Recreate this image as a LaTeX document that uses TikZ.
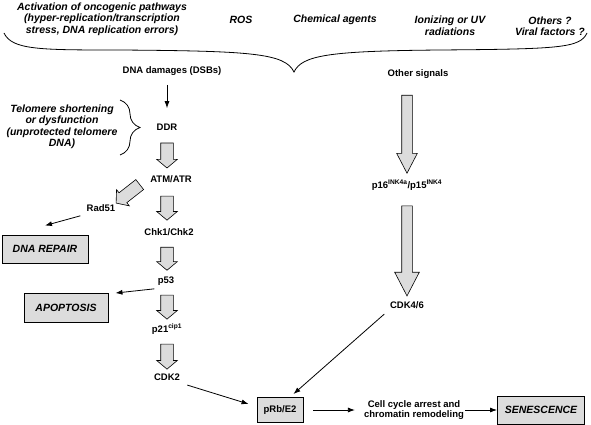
\documentclass[tikz,border=0pt]{standalone}
\usepackage{fontspec}
\setmainfont{Liberation Sans}
\usetikzlibrary{shapes.arrows,arrows.meta,decorations.pathreplacing}
\definecolor{boxgray}{RGB}{220,220,220}

\tikzset{
  lbl/.style={font=\bfseries\fontsize{9.5}{10.5}\selectfont},
  cause/.style={font=\bfseries\itshape\fontsize{10.5}{11.5}\selectfont, align=center},
  outcome/.style={draw, fill=boxgray, line width=0.9pt, font=\bfseries\itshape\fontsize{10.5}{12}\selectfont},
  conn/.style={-{Latex[length=7pt,width=5pt]}, line width=0.8pt},
  hollow/.style={single arrow, draw, fill=boxgray, line width=0.6pt, inner xsep=0pt, inner ysep=6pt,
    single arrow head extend=4pt, single arrow tip angle=100, minimum height=#1, sloped, allow upside down},
  hollowlong/.style={hollow=#1, inner ysep=5pt, single arrow head extend=5pt, single arrow tip angle=55}
}

\begin{document}
\begin{tikzpicture}[x=1pt, y=-1pt]
\useasboundingbox (0,0) rectangle (591,425);

% Causes
\node[cause] (onco) at (102,19) {Activation of oncogenic pathways\\(hyper-replication/transcription\\stress, DNA replication errors)};
\node[cause] (ros) at (241,20) {ROS};
\node[cause] (chem) at (335,20) {Chemical agents};
\node[cause] (irr) at (450,26) {Ionizing or UV\\radiations};
\node[cause] (viral) at (550,26) {Others ?\\Viral factors ?};

% Top brace
\draw[line width=0.8pt] (4,33) .. controls (12,50) and (40,50) .. (120,50)
  .. controls (250,51) and (285,53) .. (294,72)
  .. controls (302,55) and (330,51) .. (440,50)
  .. controls (560,49) and (580,48) .. (587,33);

% DNA damage pathway
\coordinate (col) at (167,0);
\node[lbl] (dsb) at (172,71) {DNA damages (DSBs)};
\node[lbl] (ddr) at (167,127) {DDR};
\node[lbl] (atm) at (171,179) {ATM/ATR};
\node[lbl] (rad) at (101,208) {Rad51};
\node[lbl] (chk) at (169,232) {Chk1/Chk2};
\node[lbl] (p53) at (166,281) {p53};
\node[lbl] (p21) at (167,329) {p21\textsuperscript{cip1}};
\node[lbl] (cdk2) at (167,377) {CDK2};

% Telomeres
\node[cause] (telo) at (62,127) {Telomere shortening\\or dysfunction\\(unprotected telomere\\DNA)};
\draw[line width=0.8pt, decorate, decoration={brace, amplitude=20pt}] (120,100) -- (120,155);

% Other signals pathway
\node[lbl] (signals) at (418,74) {Other signals};
\node[lbl] (p16) at (407,185) {p16\textsuperscript{INK4a}/p15\textsuperscript{INK4}};
\node[lbl] (cdk46) at (407,305) {CDK4/6};

% Outcomes
\node[outcome, minimum width=86pt, minimum height=28pt] (repair) at (45,249) {DNA REPAIR};
\node[outcome, minimum width=84pt, minimum height=29pt] (apop) at (66,308) {APOPTOSIS};
\node[lbl, draw, fill=boxgray, line width=0.9pt, minimum width=46pt, minimum height=25pt] (prb) at (280,410) {pRb/E2};
\node[lbl, align=center, inner sep=1pt] (cca) at (414,410) {Cell cycle arrest and\\chromatin remodeling};
\node[outcome, minimum width=87pt, minimum height=28pt] (sen) at (541,410) {SENESCENCE};

% Block arrows
\path (ddr) -- node[hollow=25pt] {} (col |- atm.north);
\path (atm.south -| col) -- node[hollow=24pt] {} (col |- chk.north);
\path (chk.south -| col) -- node[hollow=23pt] {} (col |- p53.north);
\path (p53.south -| col) -- node[hollow=24pt] {} (col |- p21.north);
\path (p21.south -| col) -- node[hollow=25pt] {} (col |- cdk2.north);
\path (atm.west) -- node[hollow=30pt, pos=0.6] {} (rad.north east);
\path (p16 |- signals.south) -- node[hollowlong=78pt] {} (p16.north);
\path (p16.south) -- node[hollowlong=90pt, single arrow head extend=7pt] {} (cdk46.north);

% Plain arrows
\draw[conn, shorten <=6pt, shorten >=12pt] (col |- dsb.south) -- (ddr.north);
\draw[conn, shorten <=3pt] (rad.south west) -- ([yshift=9pt]repair.north);
\draw[conn] (p53.south west) -- ([xshift=7pt]apop.north east);
\draw[conn, shorten <=4pt] (cdk2.south east) -- ([xshift=-8pt,yshift=6pt]prb.west);
\draw[conn, shorten <=3pt] (cdk46.south west) -- ([xshift=-10pt,yshift=3pt]prb.north east);
\draw[conn, shorten <=10pt, shorten >=8pt] (prb) -- (cca);
\draw[conn] (cca) -- (sen);

\end{tikzpicture}
\end{document}
